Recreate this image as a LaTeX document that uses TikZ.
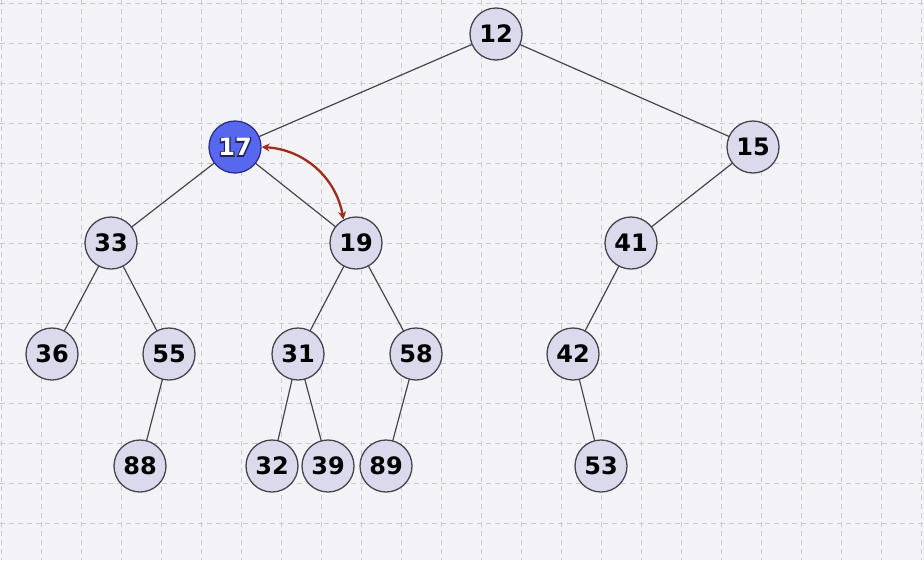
\documentclass[tikz,border=0pt]{standalone}
\usepackage{fontspec}
\setsansfont{DejaVu Sans}
\usetikzlibrary{arrows.meta}
\definecolor{paper}{HTML}{F3F3F7}
\definecolor{gridline}{HTML}{CACACF}
\definecolor{nodefill}{HTML}{DADAEC}
\definecolor{nodeedge}{HTML}{45454F}
\definecolor{hotfill}{HTML}{5767EE}
\definecolor{hotedge}{HTML}{2A2F8E}
\definecolor{swapcol}{HTML}{9E2C16}
\tikzset{
  heapnode/.style={circle, draw=nodeedge, fill=nodefill, line width=1.3pt,
    minimum size=52pt, inner sep=0pt, text=black,
    font=\sffamily\bfseries\fontsize{24}{24}\selectfont},
  hotnode/.style={heapnode, draw=hotedge, fill=hotfill, text=white},
  treeedge/.style={draw=nodeedge, line width=1.2pt},
  swaparrow/.style={draw=swapcol, line width=2.3pt,
    {Stealth[length=8pt,width=8pt]}-{Stealth[length=8pt,width=8pt]}},
  gridstyle/.style={draw=gridline, line width=0.9pt, dash pattern=on 5pt off 4pt}
}
% white digits over a dark stroked copy, giving a thin outline
\newcommand{\outlined}[1]{%
  \rlap{\special{pdf:literal direct 1 Tr 2.4 w 0.12 0.13 0.38 RG}#1\special{pdf:literal direct 0 Tr}}#1}
\begin{document}
\begin{tikzpicture}[x=1pt,y=-1pt]
  % canvas and dashed grid
  \fill[paper] (0,0) rectangle (924,560);
  \useasboundingbox (0,0) rectangle (924,560);
  \foreach \gx in {1,41,...,921} \draw[gridstyle] (\gx,0) -- (\gx,560);
  \foreach \gy in {3,43,...,560} \draw[gridstyle] (0,\gy) -- (924,\gy);

  % node centres
  \coordinate (p12) at (496,34);
  \coordinate (p17) at (235,147);
  \coordinate (p15) at (753,147);
  \coordinate (p33) at (111,243);
  \coordinate (p19) at (356,243);
  \coordinate (p41) at (631,243);
  \coordinate (p36) at (52,354);
  \coordinate (p55) at (169,354);
  \coordinate (p31) at (298,354);
  \coordinate (p58) at (416,354);
  \coordinate (p42) at (573,354);
  \coordinate (p88) at (140,466);
  \coordinate (p32) at (272,466);
  \coordinate (p39) at (328,466);
  \coordinate (p89) at (386,466);
  \coordinate (p53) at (601,466);

  % tree edges (drawn first, nodes cover their ends)
  \foreach \a/\b in {12/17,12/15,17/33,17/19,15/41,33/36,33/55,
                     19/31,19/58,41/42,55/88,31/32,31/39,58/89,42/53}
    \draw[treeedge] (p\a) -- (p\b);

  % heap nodes
  \node[heapnode] (n12) at (p12) {12};
  \node[hotnode]  (n17) at (p17) {\outlined{17}};
  \node[heapnode] (n15) at (p15) {15};
  \node[heapnode] (n33) at (p33) {33};
  \node[heapnode] (n19) at (p19) {19};
  \node[heapnode] (n41) at (p41) {41};
  \node[heapnode] (n36) at (p36) {36};
  \node[heapnode] (n55) at (p55) {55};
  \node[heapnode] (n31) at (p31) {31};
  \node[heapnode] (n58) at (p58) {58};
  \node[heapnode] (n42) at (p42) {42};
  \node[heapnode] (n88) at (p88) {88};
  \node[heapnode] (n32) at (p32) {32};
  \node[heapnode] (n39) at (p39) {39};
  \node[heapnode] (n89) at (p89) {89};
  \node[heapnode] (n53) at (p53) {53};

  % swap indicator
  \draw[swaparrow] (n17.east) to[bend left=38] (n19.118);
\end{tikzpicture}
\end{document}
